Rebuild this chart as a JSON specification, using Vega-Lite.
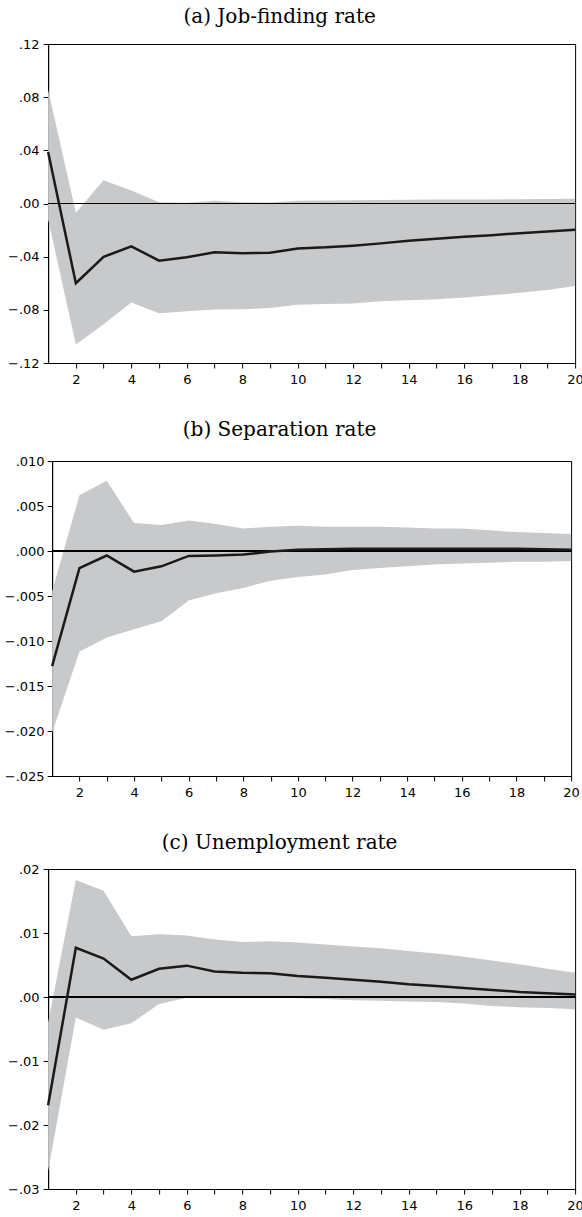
{
  "$schema": "https://vega.github.io/schema/vega-lite/v6.json",
  "background": "white",
  "padding": {"left": 3, "top": 6, "right": 0, "bottom": 0},
  "center": true,
  "spacing": 32,
  "datasets": {
    "jobfinding": [
      {"h": 1, "irf": 0.0388, "lo": -0.012, "hi": 0.0855},
      {"h": 2, "irf": -0.060, "lo": -0.106, "hi": -0.007},
      {"h": 3, "irf": -0.0402, "lo": -0.0908, "hi": 0.0175},
      {"h": 4, "irf": -0.0322, "lo": -0.0745, "hi": 0.0098},
      {"h": 5, "irf": -0.043, "lo": -0.0825, "hi": 0.001},
      {"h": 6, "irf": -0.0405, "lo": -0.081, "hi": 0.0005},
      {"h": 7, "irf": -0.0367, "lo": -0.0797, "hi": 0.002},
      {"h": 8, "irf": -0.0375, "lo": -0.0795, "hi": 0.001},
      {"h": 9, "irf": -0.037, "lo": -0.0787, "hi": 0.0007},
      {"h": 10, "irf": -0.0338, "lo": -0.0762, "hi": 0.002},
      {"h": 11, "irf": -0.033, "lo": -0.0757, "hi": 0.0022},
      {"h": 12, "irf": -0.0317, "lo": -0.0752, "hi": 0.0025},
      {"h": 13, "irf": -0.030, "lo": -0.0735, "hi": 0.0027},
      {"h": 14, "irf": -0.028, "lo": -0.0727, "hi": 0.0028},
      {"h": 15, "irf": -0.0265, "lo": -0.072, "hi": 0.003},
      {"h": 16, "irf": -0.025, "lo": -0.0707, "hi": 0.003},
      {"h": 17, "irf": -0.0238, "lo": -0.069, "hi": 0.0031},
      {"h": 18, "irf": -0.0223, "lo": -0.0672, "hi": 0.0032},
      {"h": 19, "irf": -0.021, "lo": -0.065, "hi": 0.0034},
      {"h": 20, "irf": -0.0197, "lo": -0.062, "hi": 0.0035}
    ],
    "separation": [
      {"h": 1, "irf": -0.0128, "lo": -0.0202, "hi": -0.0045},
      {"h": 2, "irf": -0.0019, "lo": -0.0112, "hi": 0.0062},
      {"h": 3, "irf": -0.0005, "lo": -0.0096, "hi": 0.0078},
      {"h": 4, "irf": -0.0023, "lo": -0.0087, "hi": 0.0031},
      {"h": 5, "irf": -0.0017, "lo": -0.0078, "hi": 0.0029},
      {"h": 6, "irf": -0.00055, "lo": -0.0055, "hi": 0.0034},
      {"h": 7, "irf": -0.0005, "lo": -0.0047, "hi": 0.003},
      {"h": 8, "irf": -0.0004, "lo": -0.0041, "hi": 0.0025},
      {"h": 9, "irf": -0.00005, "lo": -0.0033, "hi": 0.0027},
      {"h": 10, "irf": 0.00015, "lo": -0.0029, "hi": 0.0028},
      {"h": 11, "irf": 0.0002, "lo": -0.0026, "hi": 0.0027},
      {"h": 12, "irf": 0.00025, "lo": -0.0021, "hi": 0.0027},
      {"h": 13, "irf": 0.00025, "lo": -0.0019, "hi": 0.0027},
      {"h": 14, "irf": 0.00025, "lo": -0.0017, "hi": 0.0026},
      {"h": 15, "irf": 0.00025, "lo": -0.0015, "hi": 0.0025},
      {"h": 16, "irf": 0.00025, "lo": -0.0014, "hi": 0.0025},
      {"h": 17, "irf": 0.00025, "lo": -0.0013, "hi": 0.0023},
      {"h": 18, "irf": 0.00025, "lo": -0.0012, "hi": 0.0021},
      {"h": 19, "irf": 0.0002, "lo": -0.0012, "hi": 0.002},
      {"h": 20, "irf": 0.00015, "lo": -0.0011, "hi": 0.0019}
    ],
    "unemployment": [
      {"h": 1, "irf": -0.0169, "lo": -0.0272, "hi": -0.004},
      {"h": 2, "irf": 0.0077, "lo": -0.0032, "hi": 0.0183},
      {"h": 3, "irf": 0.006, "lo": -0.0051, "hi": 0.0166},
      {"h": 4, "irf": 0.0027, "lo": -0.0041, "hi": 0.0095},
      {"h": 5, "irf": 0.0044, "lo": -0.0011, "hi": 0.0098},
      {"h": 6, "irf": 0.0049, "lo": -0.0001, "hi": 0.0096},
      {"h": 7, "irf": 0.004, "lo": 0.0, "hi": 0.009},
      {"h": 8, "irf": 0.0038, "lo": 0.0, "hi": 0.0086},
      {"h": 9, "irf": 0.0037, "lo": -0.0001, "hi": 0.0087},
      {"h": 10, "irf": 0.0033, "lo": -0.0002, "hi": 0.0085},
      {"h": 11, "irf": 0.003, "lo": -0.0003, "hi": 0.0082},
      {"h": 12, "irf": 0.0027, "lo": -0.0005, "hi": 0.0079},
      {"h": 13, "irf": 0.0024, "lo": -0.0006, "hi": 0.0076},
      {"h": 14, "irf": 0.002, "lo": -0.0007, "hi": 0.0072},
      {"h": 15, "irf": 0.0017, "lo": -0.0008, "hi": 0.0068},
      {"h": 16, "irf": 0.0014, "lo": -0.001, "hi": 0.0063},
      {"h": 17, "irf": 0.0011, "lo": -0.0014, "hi": 0.0057},
      {"h": 18, "irf": 0.0008, "lo": -0.0016, "hi": 0.0051},
      {"h": 19, "irf": 0.0006, "lo": -0.0017, "hi": 0.0044},
      {"h": 20, "irf": 0.0004, "lo": -0.0019, "hi": 0.0038}
    ]
  },
  "config": {
    "view": {"stroke": "black", "strokeWidth": 1},
    "axis": {
      "grid": false,
      "domainColor": "black",
      "domainWidth": 1,
      "tickColor": "black",
      "tickWidth": 1,
      "tickSize": 5,
      "labelPadding": 4,
      "labelOverlap": false,
      "labelColor": "black",
      "labelFont": "DejaVu Sans",
      "labelFontSize": 13
    },
    "axisX": {"labelPadding": 5, "labelFlush": false},
    "title": {
      "font": "DejaVu Serif",
      "fontSize": 20,
      "fontWeight": "normal",
      "color": "black",
      "anchor": "middle",
      "offset": 11,
      "dx": -32
    }
  },
  "vconcat": [
    {
      "title": "(a) Job-finding rate",
      "width": 527,
      "height": 319,
      "data": {"name": "jobfinding"},
      "layer": [
        {
          "mark": {"type": "area", "color": "#c8c9cb", "opacity": 1},
          "encoding": {
            "x": {"field": "h", "type": "quantitative", "title": null, "scale": {"domain": [1, 20], "nice": false, "zero": false},
                  "axis": {"values": [2,3,4,5,6,7,8,9,10,11,12,13,14,15,16,17,18,19,20], "labelExpr": "datum.value / 2 == floor(datum.value / 2) ? format(datum.value, 'd') : ''", "labelOverlap": false, "labelFlush": false}},
            "y": {"field": "lo", "type": "quantitative", "title": null, "scale": {"domain": [-0.12, 0.12], "nice": false, "zero": false},
                  "axis": {"values": [-0.12, -0.08, -0.04, 0, 0.04, 0.08, 0.12], "labelExpr": "replace(format(datum.value, '.2f'), '0.', '.')", "labelOverlap": false}},
            "y2": {"field": "hi"}
          }
        },
        {
          "mark": {"type": "rule", "color": "black", "strokeWidth": 1},
          "encoding": {"y": {"datum": 0, "type": "quantitative"}}
        },
        {
          "mark": {"type": "line", "color": "#1a1a1a", "strokeWidth": 2.5},
          "encoding": {
            "x": {"field": "h", "type": "quantitative", "title": null,
                  "axis": {"values": [2,3,4,5,6,7,8,9,10,11,12,13,14,15,16,17,18,19,20], "labelExpr": "datum.value / 2 == floor(datum.value / 2) ? format(datum.value, 'd') : ''", "labelOverlap": false, "labelFlush": false}},
            "y": {"field": "irf", "type": "quantitative", "title": null,
                  "axis": {"values": [-0.12, -0.08, -0.04, 0, 0.04, 0.08, 0.12], "labelExpr": "replace(format(datum.value, '.2f'), '0.', '.')", "labelOverlap": false}}
          }
        }
      ]
    },
    {
      "title": {"text": "(b) Separation rate", "offset": 15},
      "width": 519,
      "height": 315,
      "data": {"name": "separation"},
      "layer": [
        {
          "mark": {"type": "area", "color": "#c8c9cb", "opacity": 1},
          "encoding": {
            "x": {"field": "h", "type": "quantitative", "title": null, "scale": {"domain": [1, 20], "nice": false, "zero": false},
                  "axis": {"values": [2,3,4,5,6,7,8,9,10,11,12,13,14,15,16,17,18,19,20], "labelExpr": "datum.value / 2 == floor(datum.value / 2) ? format(datum.value, 'd') : ''", "labelOverlap": false, "labelFlush": false}},
            "y": {"field": "lo", "type": "quantitative", "title": null, "scale": {"domain": [-0.025, 0.01], "nice": false, "zero": false},
                  "axis": {"values": [-0.025, -0.02, -0.015, -0.01, -0.005, 0, 0.005, 0.01], "labelExpr": "replace(format(datum.value, '.3f'), '0.', '.')", "labelOverlap": false, "labelPadding": 3}},
            "y2": {"field": "hi"}
          }
        },
        {
          "mark": {"type": "rule", "color": "black", "strokeWidth": 1},
          "encoding": {"y": {"datum": 0, "type": "quantitative"}}
        },
        {
          "mark": {"type": "line", "color": "#1a1a1a", "strokeWidth": 2.5},
          "encoding": {
            "x": {"field": "h", "type": "quantitative", "title": null,
                  "axis": {"values": [2,3,4,5,6,7,8,9,10,11,12,13,14,15,16,17,18,19,20], "labelExpr": "datum.value / 2 == floor(datum.value / 2) ? format(datum.value, 'd') : ''", "labelOverlap": false, "labelFlush": false}},
            "y": {"field": "irf", "type": "quantitative", "title": null,
                  "axis": {"values": [-0.025, -0.02, -0.015, -0.01, -0.005, 0, 0.005, 0.01], "labelExpr": "replace(format(datum.value, '.3f'), '0.', '.')", "labelOverlap": false, "labelPadding": 3}}
          }
        }
      ]
    },
    {
      "title": {"text": "(c) Unemployment rate", "offset": 10},
      "width": 527,
      "height": 320,
      "data": {"name": "unemployment"},
      "layer": [
        {
          "mark": {"type": "area", "color": "#c8c9cb", "opacity": 1},
          "encoding": {
            "x": {"field": "h", "type": "quantitative", "title": null, "scale": {"domain": [1, 20], "nice": false, "zero": false},
                  "axis": {"values": [2,3,4,5,6,7,8,9,10,11,12,13,14,15,16,17,18,19,20], "labelExpr": "datum.value / 2 == floor(datum.value / 2) ? format(datum.value, 'd') : ''", "labelOverlap": false, "labelFlush": false}},
            "y": {"field": "lo", "type": "quantitative", "title": null, "scale": {"domain": [-0.03, 0.02], "nice": false, "zero": false},
                  "axis": {"values": [-0.03, -0.02, -0.01, 0, 0.01, 0.02], "labelExpr": "replace(format(datum.value, '.2f'), '0.', '.')", "labelOverlap": false}},
            "y2": {"field": "hi"}
          }
        },
        {
          "mark": {"type": "rule", "color": "black", "strokeWidth": 1},
          "encoding": {"y": {"datum": 0, "type": "quantitative"}}
        },
        {
          "mark": {"type": "line", "color": "#1a1a1a", "strokeWidth": 2.5},
          "encoding": {
            "x": {"field": "h", "type": "quantitative", "title": null,
                  "axis": {"values": [2,3,4,5,6,7,8,9,10,11,12,13,14,15,16,17,18,19,20], "labelExpr": "datum.value / 2 == floor(datum.value / 2) ? format(datum.value, 'd') : ''", "labelOverlap": false, "labelFlush": false}},
            "y": {"field": "irf", "type": "quantitative", "title": null,
                  "axis": {"values": [-0.03, -0.02, -0.01, 0, 0.01, 0.02], "labelExpr": "replace(format(datum.value, '.2f'), '0.', '.')", "labelOverlap": false}}
          }
        }
      ]
    }
  ]
}
